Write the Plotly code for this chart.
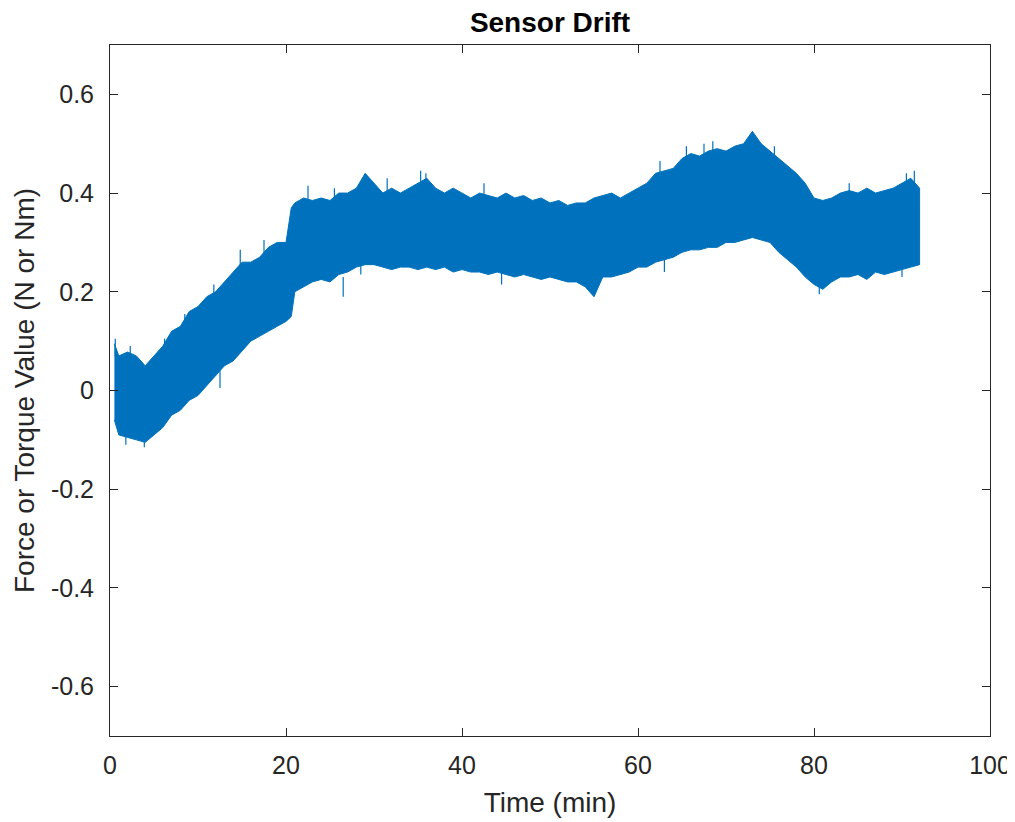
import plotly.graph_objects as go

# Time (min) sampled along the recorded signal
time_min = [0.5, 1, 2, 3, 4, 5, 6, 7, 8, 9, 10, 11, 12, 13, 14, 15, 16, 17, 18, 19, 20,
            20.6, 21, 22, 23, 24, 25, 26, 27, 28, 29, 30, 31, 32, 33, 34, 35, 36, 37, 38,
            39, 40, 41, 42, 43, 44, 45, 46, 47, 48, 49, 50, 51, 52, 53, 54, 55, 56, 57,
            58, 59, 60, 61, 62, 63, 64, 65, 66, 67, 68, 69, 70, 71, 72, 73, 74, 75, 76,
            77, 78, 79, 80, 81, 82, 83, 84, 85, 86, 87, 88, 89, 90, 91, 92]

# Upper envelope of the noisy force/torque signal
upper_env = [0.095, 0.07, 0.078, 0.07, 0.05, 0.07, 0.09, 0.12, 0.13, 0.16, 0.17, 0.19, 0.20,
             0.22, 0.24, 0.26, 0.26, 0.27, 0.29, 0.30, 0.30,
             0.37, 0.38, 0.39, 0.385, 0.39, 0.385, 0.40, 0.40, 0.41, 0.44, 0.42, 0.40, 0.41,
             0.40, 0.41, 0.42, 0.43, 0.41, 0.40, 0.41, 0.40, 0.39, 0.40, 0.395, 0.39, 0.40,
             0.39, 0.395, 0.385, 0.39, 0.38, 0.385, 0.375, 0.38, 0.38, 0.39, 0.395, 0.40,
             0.39, 0.40, 0.41, 0.42, 0.44, 0.445, 0.45, 0.47, 0.48, 0.475, 0.485, 0.49,
             0.485, 0.495, 0.50, 0.525, 0.50, 0.485, 0.47, 0.455, 0.44, 0.42, 0.39, 0.385,
             0.39, 0.40, 0.405, 0.40, 0.41, 0.40, 0.405, 0.41, 0.42, 0.43, 0.41]

# Lower envelope of the noisy force/torque signal
lower_env = [-0.06, -0.09, -0.095, -0.10, -0.105, -0.09, -0.075, -0.05, -0.04, -0.02, -0.01,
             0.01, 0.03, 0.05, 0.06, 0.08, 0.10, 0.11, 0.12, 0.13, 0.14,
             0.15, 0.20, 0.21, 0.22, 0.225, 0.22, 0.235, 0.24, 0.25, 0.255, 0.255, 0.25,
             0.245, 0.25, 0.25, 0.245, 0.25, 0.245, 0.25, 0.24, 0.245, 0.24, 0.24, 0.235,
             0.24, 0.235, 0.23, 0.235, 0.23, 0.225, 0.23, 0.225, 0.22, 0.22, 0.21, 0.19,
             0.23, 0.23, 0.235, 0.24, 0.25, 0.25, 0.26, 0.265, 0.27, 0.28, 0.285, 0.285,
             0.29, 0.29, 0.30, 0.30, 0.305, 0.31, 0.305, 0.30, 0.28, 0.265, 0.25, 0.23,
             0.215, 0.205, 0.22, 0.23, 0.23, 0.235, 0.225, 0.24, 0.235, 0.24, 0.245, 0.25,
             0.255]

# Isolated noise spikes: time, start value, end value
spike_t = [0.6, 2.3, 6.2, 8.5, 11.8, 14.8, 17.5, 22.5, 25.5, 31.5, 35.3, 35.9, 42.5,
           62.5, 65.5, 67.5, 68.5, 75.5, 84.0, 90.5, 91.4,
           1.8, 3.9, 12.5, 26.5, 28.5, 44.5, 63.0, 80.6, 90.0]
spike_from = [0.07, 0.06, 0.08, 0.12, 0.18, 0.24, 0.27, 0.38, 0.38, 0.39, 0.40, 0.40, 0.39,
              0.43, 0.46, 0.47, 0.48, 0.47, 0.39, 0.41, 0.41,
              -0.08, -0.09, 0.04, 0.23, 0.26, 0.24, 0.27, 0.22, 0.25]
spike_to = [0.105, 0.09, 0.105, 0.155, 0.215, 0.285, 0.305, 0.415, 0.41, 0.43, 0.445, 0.44,
            0.42, 0.465, 0.495, 0.50, 0.505, 0.495, 0.42, 0.44, 0.445,
            -0.11, -0.115, 0.005, 0.19, 0.235, 0.215, 0.24, 0.195, 0.23]

x_tickvals = [0, 20, 40, 60, 80, 100]
x_ticktext = ["0", "20", "40", "60", "80", "100"]
y_tickvals = [-0.6, -0.4, -0.2, 0, 0.2, 0.4, 0.6]
y_ticktext = ["-0.6", "-0.4", "-0.2", "0", "0.2", "0.4", "0.6"]

BLUE = "#0072BD"
INK = "#262626"
FONT = "Liberation Sans, Arial, Helvetica, sans-serif"

poly_x = time_min + time_min[::-1]
poly_y = upper_env + lower_env[::-1]

spk_x, spk_y = [], []
for t, a, b in zip(spike_t, spike_from, spike_to):
    spk_x += [t, t, None]
    spk_y += [a, b, None]

fig = go.Figure()
fig.add_trace(go.Scatter(
    x=poly_x, y=poly_y, mode="lines", fill="toself",
    fillcolor=BLUE, line=dict(color=BLUE, width=1),
    hoverinfo="skip", showlegend=False,
))
fig.add_trace(go.Scatter(
    x=spk_x, y=spk_y, mode="lines", line=dict(color=BLUE, width=1.2),
    hoverinfo="skip", showlegend=False, connectgaps=False,
))

axis_common = dict(
    showline=True, linecolor=INK, linewidth=1, mirror="ticks",
    ticks="inside", ticklen=8, tickwidth=1, tickcolor=INK,
    showgrid=False, zeroline=False, automargin=False,
    tickfont=dict(family=FONT, size=25, color=INK),
)

# page has an 8px body margin, so the figure is sized to fit the window
W, H = 1007, 814
fig.update_layout(
    width=W, height=H,
    margin=dict(l=102, r=25, t=37, b=86),
    paper_bgcolor="white", plot_bgcolor="white",
    title=dict(text="<b>Sensor Drift</b>", x=0.5, xref="paper", xanchor="center",
               y=1 - 14 / H, yref="container", yanchor="middle",
               font=dict(family=FONT, size=28, color="#000000")),
    xaxis=dict(range=[0, 100], tickvals=x_tickvals, ticktext=x_ticktext,
               ticklabelstandoff=7,
               title=dict(text="Time (min)", font=dict(family=FONT, size=28, color=INK),
                          standoff=14),
               **axis_common),
    yaxis=dict(range=[-0.7, 0.7], tickvals=y_tickvals, ticktext=y_ticktext,
               ticklabelstandoff=10,
               title=dict(text="Force or Torque Value (N or Nm)",
                          font=dict(family=FONT, size=28, color=INK), standoff=8),
               **axis_common),
)

fig.write_html("out.html")
